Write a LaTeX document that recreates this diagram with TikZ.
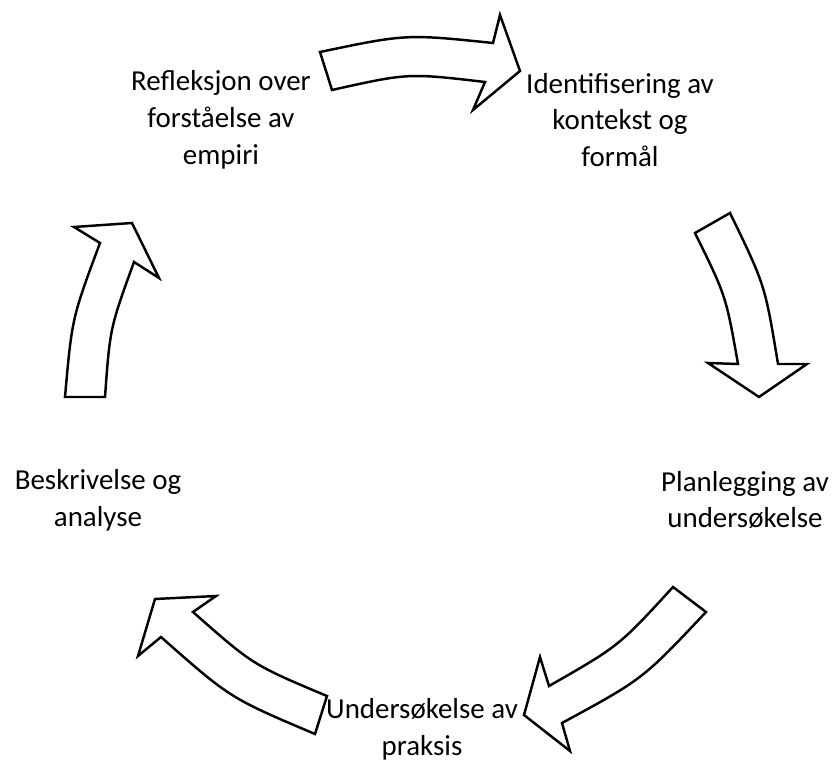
\documentclass[tikz,border=0pt]{standalone}
\usepackage{fontspec}
\setmainfont{Carlito}
\usetikzlibrary{scopes}
\tikzstyle{stage} = [align=center, inner sep=0pt, font=\fontsize{24.7}{31.5}\selectfont]
\tikzstyle{blockarrow} = [draw=black, line width=2.1pt, fill=white, line join=miter]

\begin{document}
\begin{tikzpicture}[x=0.03cm, y=-0.03cm]
    \useasboundingbox (0,0) rectangle (834,763);
    \begin{scope}[blockarrow]
        \filldraw (320,52) .. controls (406,34) .. (493,43) -- (500,15) -- (520,71) -- (473,110) -- (485,82) .. controls (408,73) .. (332,90) -- cycle;
        \filldraw (730,213) .. controls (765,285) .. (778,364) -- (807,364) -- (759,397) -- (708,363) -- (738,364) .. controls (726,296) .. (695,233) -- cycle;
        \filldraw (706,612) .. controls (643,679) .. (562,723) -- (570,751) -- (524,715) -- (540,657) -- (549,686) .. controls (619,646) .. (673,587) -- cycle;
        \filldraw (315,734) .. controls (230,698) .. (161,637) -- (138,656) -- (155,599) -- (216,596) -- (193,612) .. controls (253,665) .. (327,696) -- cycle;
        \filldraw (65,397) .. controls (72,318) .. (100,243) -- (74,227) -- (132,223) -- (159,278) -- (134,262) .. controls (110,328) .. (105,397) -- cycle;
    \end{scope}
    \node[stage] (refl) at (221,120) {Refleksjon over\\forståelse av\\empiri};
    \node[stage] (ident) at (620,120) {Identifisering av\\kontekst og\\formål};
    \node[stage] (plan) at (745,500) {Planlegging av\\undersøkelse};
    \node[stage] (unders) at (422,729) {Undersøkelse av\\praksis};
    \node[stage] (beskr) at (98,500) {Beskrivelse og\\analyse};
\end{tikzpicture}
\end{document}
